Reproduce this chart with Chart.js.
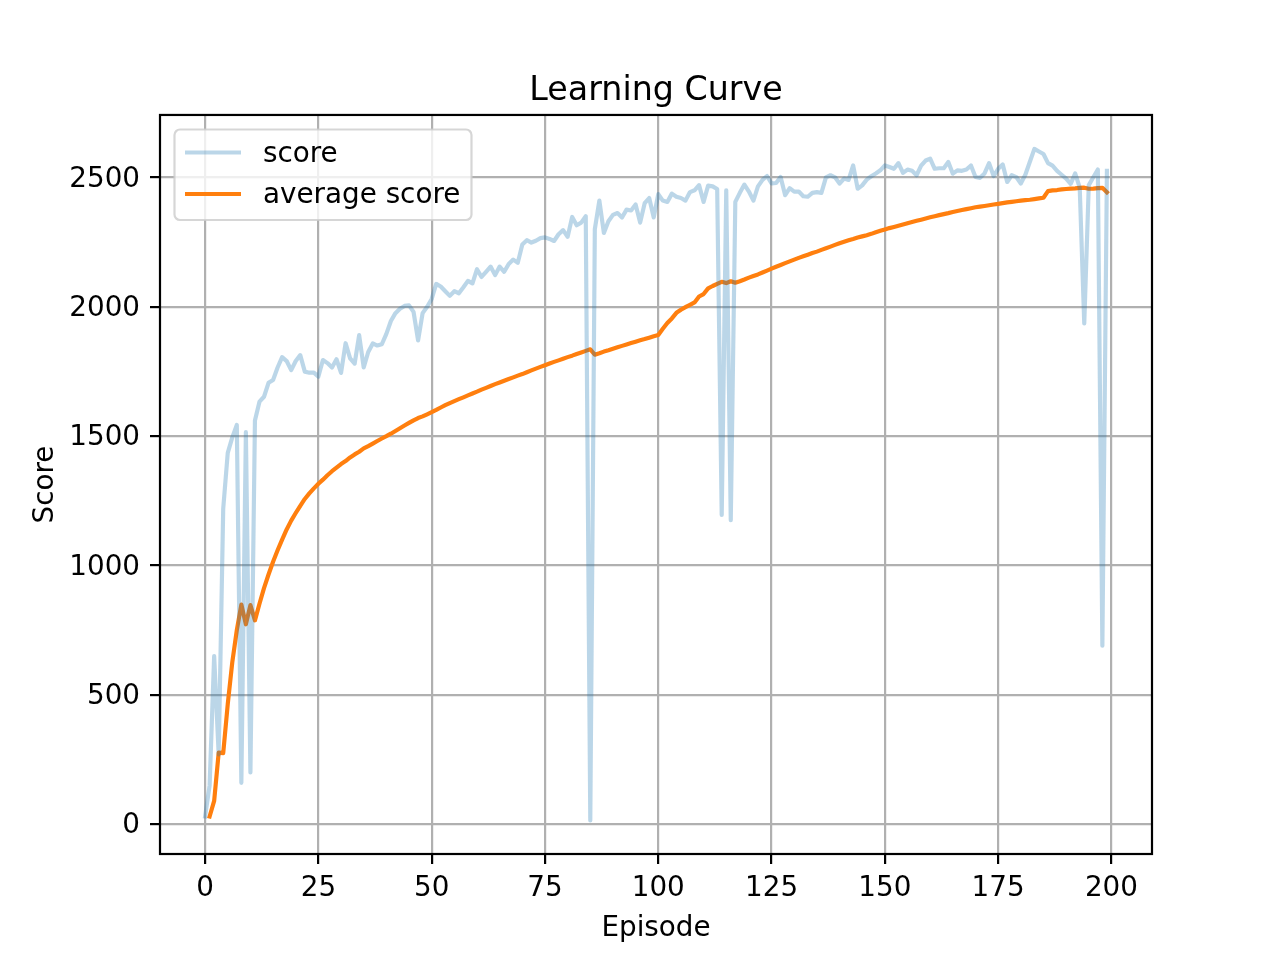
<!DOCTYPE html>
<html>
<head>
<meta charset="utf-8">
<script src="https://cdn.jsdelivr.net/npm/chart.js@4.4.0/dist/chart.umd.min.js"></script>
<style>html,body{margin:0;padding:0;background:#fff}canvas{display:block}</style>
</head>
<body>
<canvas id="c" width="1280" height="960"></canvas>
<script>
// ---- data ----
const chartTitle = 'Learning Curve';
const xAxisTitle = 'Episode';
const yAxisTitle = 'Score';
const seriesLabels = ['score', 'average score'];
const xTicks = [0, 25, 50, 75, 100, 125, 150, 175, 200];
const yTicks = [0, 500, 1000, 1500, 2000, 2500];

// score per episode, episodes 0..199
const scores = [
30,150,650,270,1220,1435,1495,1543,160,1515,
200,1560,1633,1652,1706,1717,1765,1805,1790,1755,
1790,1813,1749,1745,1745,1730,1794,1782,1765,1797,
1744,1859,1800,1780,1890,1765,1825,1858,1850,1855,
1895,1945,1975,1992,2003,2005,1980,1870,1975,2000,
2030,2088,2078,2060,2042,2060,2052,2075,2100,2090,
2145,2115,2135,2155,2122,2155,2135,2165,2182,2170,
2240,2257,2248,2255,2265,2268,2262,2254,2280,2296,
2270,2347,2315,2325,2350,15,2300,2410,2285,2330,
2355,2362,2345,2375,2372,2395,2325,2400,2420,2345,
2435,2410,2405,2437,2425,2420,2410,2443,2450,2470,
2405,2468,2465,2455,1195,2450,1175,2405,2440,2472,
2445,2410,2465,2490,2505,2476,2478,2501,2431,2458,
2445,2445,2427,2425,2440,2443,2440,2500,2508,2500,
2476,2495,2490,2546,2456,2469,2491,2504,2515,2527,
2546,2540,2533,2555,2517,2530,2525,2508,2545,2565,
2572,2533,2535,2535,2559,2514,2527,2525,2530,2546,
2501,2498,2515,2555,2505,2533,2550,2482,2508,2501,
2476,2510,2560,2610,2600,2590,2555,2545,2525,2510,
2495,2475,2515,2460,1935,2470,2500,2530,690,2525
];

// average score, plotted at episodes 1..199
const averageScores = [
30,90,276.7,275,464,625.8,750,849.1,772.6,846.8,
788,852.3,912.4,965.2,1014.6,1058.5,1100.1,1139.2,1173.5,1202.6,
1230.5,1257,1278.4,1297.8,1315.7,1331.7,1348.8,1364.3,1378.1,1392,
1403.4,1417.6,1429.2,1439.5,1452.4,1461.1,1470.9,1481.1,1490.6,1499.7,
1509.3,1519.7,1530.3,1540.8,1551,1560.9,1569.8,1576.1,1584.2,1592.5,
1601.1,1610.5,1619.3,1627.5,1635,1642.6,1649.8,1657.1,1664.6,1671.7,
1679.5,1686.5,1693.6,1700.8,1707.3,1714.1,1720.4,1726.9,1733.5,1739.7,
1746.8,1753.9,1760.6,1767.3,1773.9,1780.4,1786.7,1792.7,1798.9,1805.1,
1810.8,1817.4,1823.3,1829.3,1835.4,1814.3,1819.9,1826.6,1831.7,1837.3,
1842.9,1848.6,1853.9,1859.5,1864.9,1870.4,1875.1,1880.4,1885.9,1890.5,
1914.5,1937.1,1954.7,1976.3,1988.4,1998.2,2007.4,2016.4,2039.3,2048.8,
2070.9,2080,2088.3,2096.3,2091.2,2098.5,2092.6,2098.6,2105.1,2112.3,
2118.9,2124.8,2132,2139.4,2147,2154.5,2161.3,2168.5,2175.2,2181.8,
2188.8,2194.7,2200.9,2207.4,2212.9,2219.7,2225.8,2232.2,2238.8,2245.3,
2251.1,2256.6,2261.7,2267.3,2271.8,2276.4,2281.6,2287.9,2293.3,2298.6,
2303.7,2308.2,2312.8,2317.7,2322.5,2327.2,2331.9,2336.3,2340.7,2345.5,
2349.7,2353.9,2357.9,2361.7,2366.1,2369.7,2373.6,2377.2,2380.7,2384.4,
2387,2389.4,2392.1,2395.1,2397.5,2400.2,2403,2405.3,2407.6,2409.7,
2411.7,2413.3,2415.8,2418.6,2421.1,2446.9,2449.4,2450.8,2453.2,2455,
2456.4,2457.5,2459.2,2460.1,2455.7,2456.5,2458.2,2459.5,2442.2
];

// ---- styling ----
const FONT = "'DejaVu Sans'";
Chart.defaults.font.family = FONT;
Chart.defaults.color = '#000';

const scoreColor = 'rgba(31,119,180,0.3)';
const avgColor = '#ff7f0e';
const LW = 4.17;

const legendPlugin = {
  id: 'mplLegend',
  afterDatasetsDraw(chart) {
    const ctx = chart.ctx;
    const x = 174.5, y = 129.5, w = 297, h = 90.5, r = 5.5;
    ctx.save();
    ctx.beginPath();
    ctx.moveTo(x + r, y);
    ctx.lineTo(x + w - r, y);
    ctx.arcTo(x + w, y, x + w, y + r, r);
    ctx.lineTo(x + w, y + h - r);
    ctx.arcTo(x + w, y + h, x + w - r, y + h, r);
    ctx.lineTo(x + r, y + h);
    ctx.arcTo(x, y + h, x, y + h - r, r);
    ctx.lineTo(x, y + r);
    ctx.arcTo(x, y, x + r, y, r);
    ctx.closePath();
    ctx.fillStyle = 'rgba(255,255,255,0.8)';
    ctx.fill();
    ctx.lineWidth = 2.2;
    ctx.strokeStyle = 'rgba(204,204,204,0.8)';
    ctx.stroke();
    const rows = [152.5, 194];
    const baselines = [162, 203];
    chart.data.datasets.forEach((ds, i) => {
      ctx.beginPath();
      ctx.moveTo(185, rows[i]);
      ctx.lineTo(241, rows[i]);
      ctx.strokeStyle = ds.borderColor;
      ctx.lineWidth = ds.borderWidth;
      ctx.lineCap = 'butt';
      ctx.stroke();
      ctx.fillStyle = '#000';
      ctx.font = '27.8px ' + FONT;
      ctx.textBaseline = 'alphabetic';
      ctx.textAlign = 'left';
      ctx.fillText(ds.label, 263, baselines[i]);
    });
    ctx.restore();
  }
};

const framePlugin = {
  id: 'frame',
  afterDraw(chart) {
    const a = chart.chartArea;
    const ctx = chart.ctx;
    ctx.save();
    ctx.strokeStyle = '#000';
    ctx.lineWidth = 2.2;
    ctx.strokeRect(a.left, a.top, a.right - a.left, a.bottom - a.top);
    ctx.restore();
  }
};

new Chart(document.getElementById('c'), {
  type: 'line',
  data: {
    datasets: [
      {
        label: seriesLabels[0],
        data: scores.map((v, i) => ({ x: i, y: v })),
        borderColor: scoreColor,
        backgroundColor: scoreColor,
        borderWidth: LW,
        pointRadius: 0,
        tension: 0,
        fill: false,
        borderJoinStyle: 'round',
        borderCapStyle: 'square'
      },
      {
        label: seriesLabels[1],
        data: averageScores.map((v, i) => ({ x: i + 1, y: v })),
        borderColor: avgColor,
        backgroundColor: avgColor,
        borderWidth: LW,
        pointRadius: 0,
        tension: 0,
        fill: false,
        borderJoinStyle: 'round',
        borderCapStyle: 'square'
      }
    ]
  },
  options: {
    responsive: false,
    animation: false,
    devicePixelRatio: 1,
    layout: { padding: { left: 0, right: 128, top: 0, bottom: 0 } },
    plugins: {
      legend: { display: false },
      tooltip: { enabled: false },
      title: {
        display: true,
        fullSize: false,
        text: chartTitle,
        color: '#000',
        font: { family: FONT, size: 33.3, weight: 'normal', lineHeight: 1.2 },
        padding: { top: 71, bottom: 4 }
      }
    },
    scales: {
      x: {
        type: 'linear',
        min: -9.95,
        max: 208.95,
        afterBuildTicks: s => { s.ticks = xTicks.map(v => ({ value: v })); },
        afterFit: s => { s.height = 106; },
        ticks: {
          font: { family: FONT, size: 27.8 },
          color: '#000',
          padding: 8,
          maxRotation: 0,
          autoSkip: false,
          callback: v => String(v)
        },
        grid: {
          color: '#b0b0b0',
          lineWidth: 2.2,
          tickColor: '#000',
          tickLength: 10,
          tickWidth: 2.2,
          drawTicks: true
        },
        border: { display: false },
        title: {
          display: true,
          text: xAxisTitle,
          color: '#000',
          font: { family: FONT, size: 27.8 },
          padding: { top: 0, bottom: 15 }
        }
      },
      y: {
        type: 'linear',
        min: -115,
        max: 2741,
        afterBuildTicks: s => { s.ticks = yTicks.map(v => ({ value: v })); },
        afterFit: s => { s.width = 160; },
        ticks: {
          font: { family: FONT, size: 27.8 },
          color: '#000',
          padding: 10,
          labelOffset: 2,
          callback: v => String(v)
        },
        grid: {
          color: '#b0b0b0',
          lineWidth: 2.2,
          tickColor: '#000',
          tickLength: 10,
          tickWidth: 2.2,
          drawTicks: true
        },
        border: { display: false },
        title: {
          display: true,
          text: yAxisTitle,
          color: '#000',
          font: { family: FONT, size: 27.8 },
          padding: { top: 29, bottom: 0 }
        }
      }
    }
  },
  plugins: [legendPlugin, framePlugin]
});
</script>
</body>
</html>
